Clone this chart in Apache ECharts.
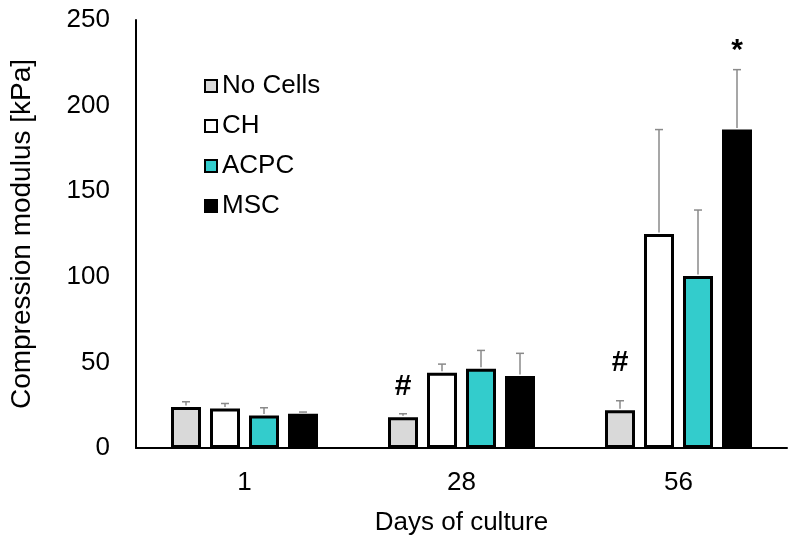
<!DOCTYPE html>
<html>
<head>
<meta charset="utf-8">
<script src="https://cdn.jsdelivr.net/npm/echarts@6/dist/echarts.min.js"></script>
<style>html,body{margin:0;padding:0;background:#fff}#c{width:800px;height:545px}</style>
</head>
<body>
<div id="c"></div>
<script>
var categories = ['1', '28', '56'];
var seriesNames = ['No Cells', 'CH', 'ACPC', 'MSC'];
var noCells = [24, 18, 22];
var noCellsErr = [27, 20, 27.6];
var ch = [23, 44, 125];
var chErr = [26, 49, 186];
var acpc = [19, 46.3, 100.5];
var acpcErr = [23.5, 57, 139];
var msc = [20, 42, 186];
var mscErr = [21, 55.3, 221];
var yTicks = [0, 50, 100, 150, 200, 250];
// annotations: [category index, series index, y value, text]
var annotations = [[1, 0, 36, '#'], [2, 0, 50, '#'], [2, 3, 232, '*']];

var means = [noCells, ch, acpc, msc];
var errs = [noCellsErr, chErr, acpcErr, mscErr];
var colors = ['#d9d9d9', '#ffffff', '#33cccc', '#000000'];
var FONT = 'Liberation Sans, Arial, sans-serif';
var BAR_W = 30, BORDER = 3, GAP_PCT = 30;
var PITCH = BAR_W * (1 + GAP_PCT / 100);

var chart = echarts.init(document.getElementById('c'));
var series = [];
seriesNames.forEach(function (name, i) {
  series.push({
    name: name, type: 'bar', data: means[i], barWidth: BAR_W, barGap: GAP_PCT + '%',
    itemStyle: { color: colors[i], borderColor: '#000', borderWidth: BORDER },
    z: 2
  });
});
seriesNames.forEach(function (name, i) {
  series.push({
    type: 'custom', name: name + ' err', z: 3,
    data: categories.map(function (c, k) { return [k, means[i][k], errs[i][k]]; }),
    renderItem: function (params, api) {
      var k = api.value(0);
      var base = api.coord([k, api.value(1)]);
      var top = api.coord([k, api.value(2)]);
      var x = base[0] + (i - 1.5) * PITCH;
      return {
        type: 'group', children: [
          { type: 'line', shape: { x1: x, y1: base[1] - BORDER / 2, x2: x, y2: top[1] }, style: { stroke: '#8a8a8a', lineWidth: 1.5 } },
          { type: 'line', shape: { x1: x - 4, y1: top[1], x2: x + 4, y2: top[1] }, style: { stroke: '#8a8a8a', lineWidth: 1.5 } }
        ]
      };
    },
    tooltip: { show: false }
  });
});
series.push({
  type: 'custom', name: 'annot', z: 4,
  data: annotations,
  renderItem: function (params, api) {
    var k = api.value(0), si = api.value(1);
    var p = api.coord([k, api.value(2)]);
    var x = p[0] + (si - 1.5) * PITCH;
    return { type: 'text', x: x, y: p[1], style: { text: annotations[params.dataIndex][3], fill: '#000', font: 'bold 30px ' + FONT, align: 'center', verticalAlign: 'middle' } };
  }
});

chart.setOption({
  animation: false,
  grid: { left: 133, right: 13, top: 20, bottom: 97 },
  legend: {
    data: seriesNames, orient: 'vertical', left: 199, top: 68,
    icon: 'rect', itemWidth: 12, itemHeight: 12, itemGap: 14,
    textStyle: { fontFamily: FONT, fontSize: 26, lineHeight: 26, color: '#000', padding: [0, 0, 0, 0] }
  },
  xAxis: {
    type: 'category', data: categories,
    axisLine: { lineStyle: { color: '#000', width: 2 } },
    axisTick: { show: false },
    axisLabel: { fontFamily: FONT, fontSize: 26, color: '#000', margin: 22 },
    name: 'Days of culture', nameLocation: 'middle', nameGap: 62,
    nameTextStyle: { fontFamily: FONT, fontSize: 26, color: '#000' }
  },
  yAxis: {
    type: 'value', min: 0, max: 250, interval: 50,
    axisLine: { show: true, lineStyle: { color: '#000', width: 2 } },
    axisTick: { show: false },
    splitLine: { show: false },
    axisLabel: { fontFamily: FONT, fontSize: 26, color: '#000', margin: 26,
      formatter: function (v) { return yTicks.indexOf(v) >= 0 ? String(v) : ''; } },
    name: 'Compression modulus [kPa]', nameLocation: 'middle', nameGap: 100,
    nameTextStyle: { fontFamily: FONT, fontSize: 28, color: '#000' }
  },
  series: series
});
</script>
</body>
</html>
